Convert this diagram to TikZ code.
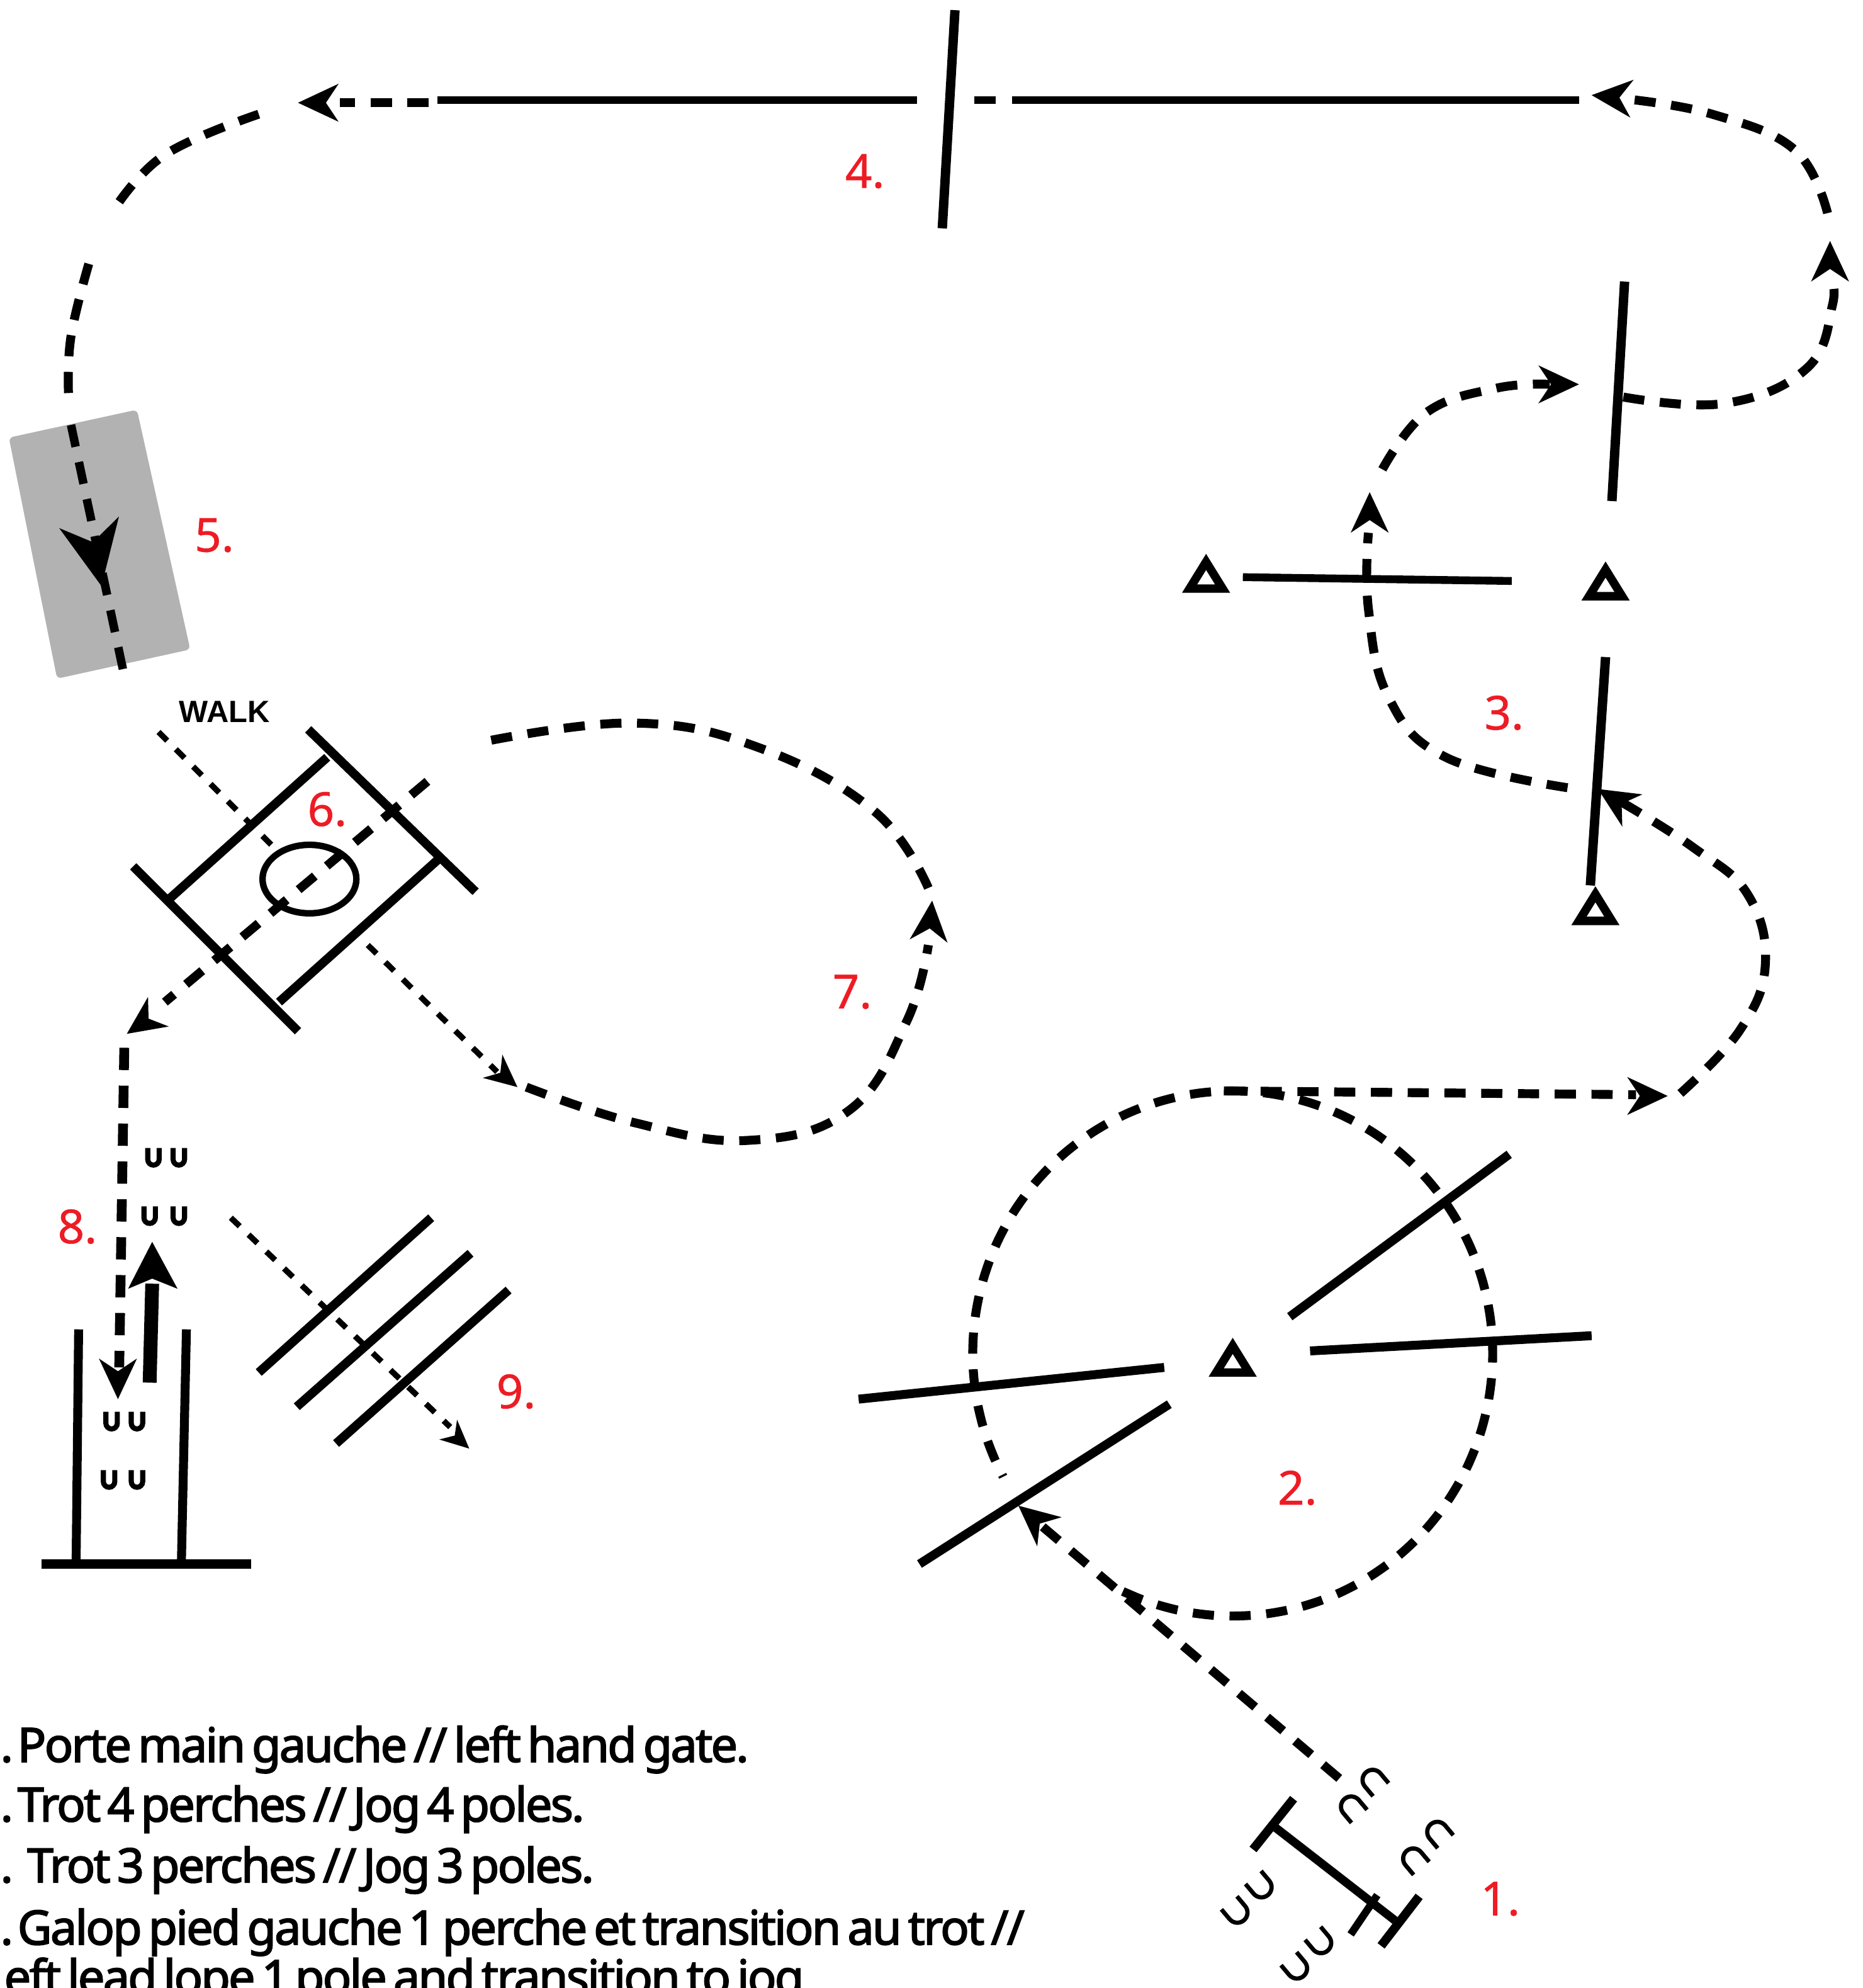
\documentclass[tikz,border=0pt]{standalone}
\usepackage{fontspec}
\setmainfont{Noto Sans}
\newfontfamily\legendfont[FakeBold=2.4,LetterSpace=-3.6,WordSpace=0.6]{Noto Sans}
\newfontfamily\redfont[FakeBold=0.8]{Noto Sans}
\newfontfamily\walkfont{Liberation Sans}
\definecolor{lblred}{HTML}{ED1C24}
\tikzset{
  bigdash/.style={line width=4pt,dash pattern=on 9.5pt off 7pt},
  thindash/.style={line width=2.6pt,dash pattern=on 5.5pt off 5.5pt},
  pole/.style={line width=3.5pt},
  lbl/.style={inner sep=0pt,text=lblred,font=\redfont\fontsize{21}{25}\selectfont},
  legend/.style={inner sep=0pt,anchor=base west,font=\legendfont\fontsize{21.3}{26}\selectfont},
  arrowfill/.style={fill=black,draw=none},
  cone/.style={draw=black,line width=3.8pt,fill=white,line join=miter},
  shoe/.style={draw=black,line width=1.9pt},
  smallshoe/.style={draw=black,line width=2.3pt},
  smoothline/.style={smooth,tension=0.7},
}
% arrow head: tip position and screen angle
\newcommand{\headtip}[4][1]{\fill[arrowfill,shift={(#2,#3)},rotate=#4,scale=#1] (0,0) -- (-32,15) -- (-22,0) -- (-32,-15) -- cycle;}
% horseshoe: centre, rotation, size
\newcommand{\horseshoe}[3]{\draw[shoe,shift={(#1,#2)},rotate=#3] (-8,-9) -- (-8,1) arc[start angle=180,end angle=0,radius=8] -- (8,-9);}
\newcommand{\smallshoe}[2]{\draw[smallshoe,shift={(#1,#2)}] (-4.5,-7) -- (-4.5,2) arc[start angle=180,end angle=0,radius=4.5] -- (4.5,-7);}
\newcommand{\conemark}[2]{\draw[cone,shift={(#1,#2)}] (-13,10) -- (0,-11) -- (13,10) -- cycle;}
\begin{document}
\begin{tikzpicture}[x=0.02cm,y=-0.02cm]
\useasboundingbox (0,0) rectangle (1468.5,1567.25);
% gray mat
\fill[black!30,rounded corners=2pt] (7,345) -- (108,323) -- (150,512) -- (45,535) -- cycle;
% entry path
\draw[bigdash] (1056,1402) -- (812,1195);
\headtip{803}{1187}{140}
% circle
\draw[bigdash] plot[domain=115:-208,samples=80,smooth] ({972+205*cos(\x)},{1067+207*sin(\x)});
% exit line
\draw[bigdash] (965,860) -- (1290,863);
\headtip{1315}{864}{0}
\draw[bigdash] plot[smoothline] coordinates {(1325,862) (1372,812) (1392,760) (1378,705) (1335,668) (1278,632)};
\headtip{1260}{622}{148}
\draw[bigdash] plot[smoothline] coordinates {(1236,621) (1140,597) (1095,550) (1079,480) (1079,420)};
\headtip{1080}{388}{90}
\draw[bigdash] plot[smoothline] coordinates {(1090,370) (1125,325) (1180,306) (1222,303)};
\headtip{1245}{303}{0}
\draw[bigdash] plot[smoothline] coordinates {(1280,313) (1360,318) (1425,290) (1445,240) (1443,218)};
\headtip{1443}{190}{90}
\draw[bigdash] plot[smoothline] coordinates {(1441,168) (1415,118) (1350,90) (1282,78)};
\headtip{1255}{75}{175}
% long line
\draw[pole] (1245,79) -- (798,79);
\draw[pole] (785,79) -- (768,79);
\draw[pole] (723,79) -- (345,79);
\draw[bigdash] (338,81) -- (268,81);
\headtip{235}{81}{180}
\draw[bigdash] plot[smoothline] coordinates {(204,90) (130,122) (90,165)};
\draw[bigdash] plot[smoothline] coordinates {(70,208) (56,265) (54,310)};
\draw[line width=3.8pt,dash pattern=on 10pt off 7pt] (56,335) -- (97,528);
\headtip[1.6]{80}{462}{281}
% poles of 4 and 3
\draw[line width=4.2pt] (753,8) -- (743,180);
\draw[line width=4.2pt] (1281,222) -- (1271,395);
\draw[pole] (980,455) -- (1192,458);
\draw[line width=4.2pt] (1266,518) -- (1254,698);
\conemark{951}{454}
\conemark{1266}{460}
\conemark{1258}{716}
% 2
\draw[line width=4pt] (677,1103) -- (918,1078);
\draw[line width=4pt] (1033,1065) -- (1255,1053);
\draw[line width=4pt] (725,1233) -- (922,1107);
\draw[line width=4pt] (1017,1038) -- (1190,910);
\conemark{972}{1072}
% gate 1
\draw[line width=4pt] (1020,1418) -- (988,1458);
\draw[line width=4pt] (1119,1495) -- (1089,1534);
\draw[line width=3.4pt] (1086,1494) -- (1065,1525);
\draw[line width=3.8pt] (1006,1441) -- (1100,1514);
\horseshoe{1083}{1404}{220}
\horseshoe{1066}{1425}{220}
\horseshoe{1134}{1445}{220}
\horseshoe{1115}{1466}{220}
\horseshoe{994}{1487}{40}
\horseshoe{975}{1507}{40}
\horseshoe{1041}{1531}{40}
\horseshoe{1022}{1551}{40}
% walk text and walk path
\node[inner sep=0pt,font=\walkfont\bfseries\fontsize{13.8}{16}\selectfont] (walk) at (177,561) {WALK};
\draw[thindash] (125,577) -- (215,667);
\draw[thindash] (290,745) -- (392,845);
\headtip[0.8]{408}{857}{-40}
\draw[bigdash] plot[smoothline] coordinates {(415,857) (500,885) (590,899) (670,875) (715,805) (732,745)};
\headtip{735}{710}{85}
\draw[bigdash] plot[smoothline] coordinates {(732,700) (690,640) (600,590) (500,570) (380,585)};
% box 6
\draw[line width=4pt] (243,575) -- (375,703);
\draw[line width=4pt] (105,683) -- (235,813);
\draw[line width=4pt] (258,597) -- (132,710);
\draw[line width=4pt] (345,678) -- (220,790);
\draw[line width=2.9pt] (244,693) ellipse[x radius=37,y radius=27];
\draw[bigdash] (337,616) -- (130,790);
\headtip[0.95]{100}{815}{215}
% lane 8
\draw[line width=4.4pt,dash pattern=on 10pt off 7pt] (98,826) -- (94,1078);
\headtip{93}{1103}{270}
\draw[line width=6.2pt] (118,1090) -- (120,1012);
\fill[arrowfill] (120,979) -- (140,1016) -- (120,1008) -- (101,1016) -- cycle;
\draw[line width=4pt] (62,1048) -- (60,1233);
\draw[line width=4pt] (147,1048) -- (143,1233);
\draw[line width=4pt] (33,1233) -- (198,1233);
\smallshoe{121}{912}
\smallshoe{141}{912}
\smallshoe{118}{958}
\smallshoe{141}{958}
\smallshoe{88}{1120}
\smallshoe{108}{1120}
\smallshoe{86}{1166}
\smallshoe{108}{1166}
% 9
\draw[line width=4pt] (340,960) -- (204,1082);
\draw[line width=4pt] (371,988) -- (234,1109);
\draw[line width=4pt] (401,1017) -- (265,1138);
\draw[thindash] (182,960) -- (355,1125);
\headtip[0.7]{370}{1142}{-42}
% numbers
\node[lbl] (n1) at (1183,1497) {1.};
\node[lbl] (n2) at (1023,1173) {2.};
\node[lbl] (n3) at (1186,562) {3.};
\node[lbl] (n4) at (682,135) {4.};
\node[lbl] (n5) at (169,422) {5.};
\node[lbl] (n6) at (258,638) {6.};
\node[lbl] (n7) at (672,782) {7.};
\node[lbl] (n8) at (61,967) {8.};
\node[lbl] (n9) at (407,1097) {9.};
% legend
\node[legend] (l1) at (0,1389) {.\hspace{-2.5pt} Porte main gauche // left hand gate.};
\node[legend] (l2) at (0,1436) {.\hspace{-2.5pt} Trot 4 perches // Jog 4 poles.};
\node[legend] (l3) at (0,1484) {.\ \hspace{-1pt} Trot 3 perches // Jog 3 poles.};
\node[legend] (l4) at (0,1533) {.\hspace{-2.5pt} Galop pied gauche 1 perche et transition au trot //};
\node[legend] (l5) at (3,1572) {eft lead lope 1 pole and transition to jog};
\end{tikzpicture}
\end{document}
